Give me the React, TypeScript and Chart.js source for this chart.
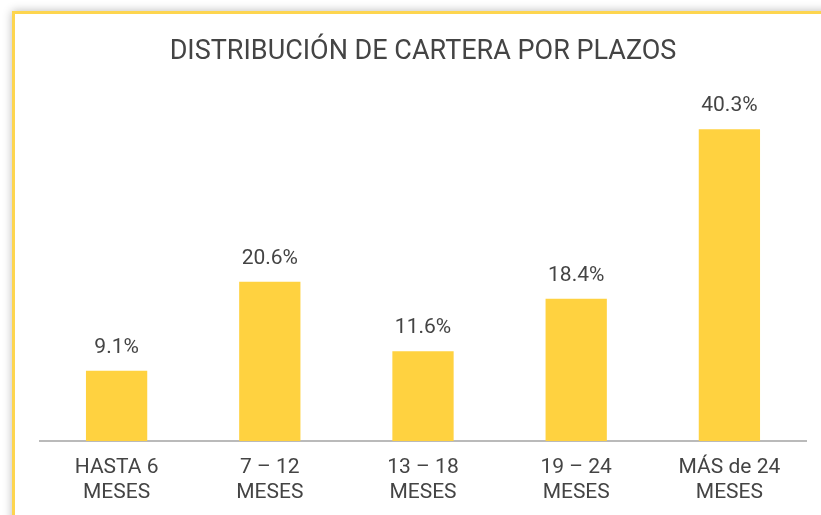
import React, { useEffect, useRef } from "react";
import { Chart, registerables } from "chart.js";

Chart.register(...registerables);

const TITLE = "DISTRIBUCIÓN DE CARTERA POR PLAZOS";
const categories: string[][] = [
  ["HASTA 6", "MESES"],
  ["7 – 12", "MESES"],
  ["13 – 18", "MESES"],
  ["19 – 24", "MESES"],
  ["MÁS de 24", "MESES"],
];
const values: number[] = [9.1, 20.6, 11.6, 18.4, 40.3];
const valueLabels: string[] = ["9.1%", "20.6%", "11.6%", "18.4%", "40.3%"];

const TEXT = "#444444";
const FONT = "Roboto, 'Noto Sans', sans-serif";

const labelsPlugin = {
  id: "customLabels",
  afterDatasetsDraw(chart: any) {
    const ctx = chart.ctx;
    const meta = chart.getDatasetMeta(0);
    ctx.save();
    ctx.fillStyle = TEXT;
    ctx.font = `21px ${FONT}`;
    ctx.textAlign = "center";
    ctx.textBaseline = "alphabetic";
    meta.data.forEach((bar: any, i: number) => {
      ctx.fillText(valueLabels[i], bar.x, bar.y - 18);
    });
    // title
    const area = chart.chartArea;
    ctx.font = `27px ${FONT}`;
    ctx.fillText(TITLE, (area.left + area.right) / 2, 45);
    ctx.restore();
  },
};

export default function App() {
  const ref = useRef<HTMLCanvasElement | null>(null);
  useEffect(() => {
    document.body.style.overflow = "hidden";
    const chart = new Chart(ref.current as HTMLCanvasElement, {
      type: "bar",
      data: {
        labels: categories,
        datasets: [
          {
            data: values,
            backgroundColor: "#FFD240",
            borderWidth: 0,
            barPercentage: 0.4,
            categoryPercentage: 1,
          },
        ],
      },
      options: {
        animation: false,
        responsive: false,
        maintainAspectRatio: false,
        layout: { padding: { left: 25, right: 15, top: 79, bottom: 14 } },
        plugins: {
          legend: { display: false },
          title: { display: false },
          tooltip: { enabled: false },
        },
        scales: {
          x: {
            grid: { display: false, drawTicks: false },
            border: { display: true, color: "#BABABA", width: 2 },
            ticks: {
              color: TEXT,
              font: { family: FONT, size: 21, lineHeight: 1.2 },
              padding: 14,
              maxRotation: 0,
              autoSkip: false,
            },
            afterFit: (s: any) => {
              s.height = 60;
            },
          },
          y: {
            display: false,
            min: 0,
            max: 45,
          },
        },
      },
      plugins: [labelsPlugin],
    });
    return () => chart.destroy();
  }, []);

  return (
    <div>
      <div
        style={{
          position: "fixed",
          left: 12,
          top: 11,
          width: 1000,
          height: 700,
          background: "#fff",
          borderTop: "3px solid #FDD54F",
          borderLeft: "3px solid #FDD54F",
          boxShadow: "0 0 9px rgba(0,0,0,0.28)",
        }}
      />
      <canvas
        ref={ref}
        width={806}
        height={501}
        style={{ position: "fixed", left: 15, top: 14, width: 806, height: 501 }}
      />
    </div>
  );
}
